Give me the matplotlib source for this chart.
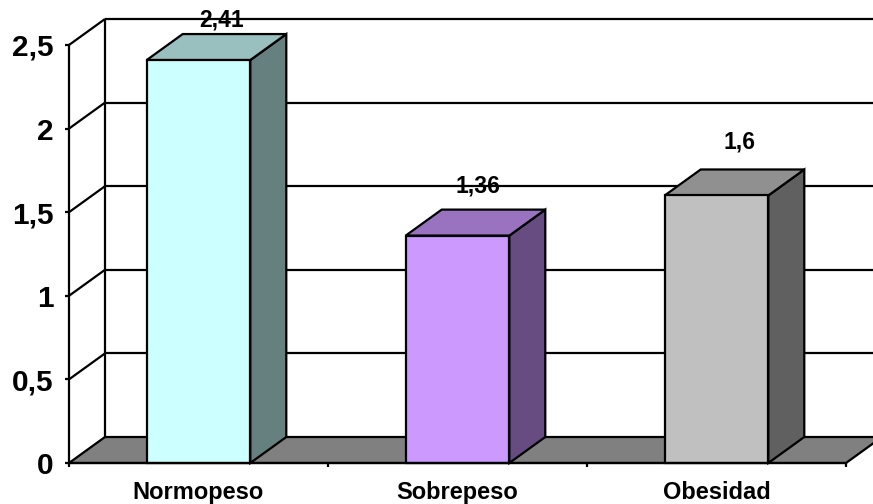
import matplotlib
matplotlib.use("Agg")
import matplotlib.pyplot as plt
from matplotlib.patches import Polygon

categorias = ["Normopeso", "Sobrepeso", "Obesidad"]
valores = [2.41, 1.36, 1.6]
etiquetas = ["2,41", "1,36", "1,6"]
ticks_y = [0, 0.5, 1, 1.5, 2, 2.5]
ticks_y_txt = ["0", "0,5", "1", "1,5", "2", "2,5"]

W, H = 873, 504
plt.rcParams["font.family"] = ["Liberation Sans", "DejaVu Sans"]

fig = plt.figure(figsize=(W / 100, H / 100), dpi=100)
# axes = front plane of the 3D box
L, R, T, B = 69, 846, 45, 463
ax = fig.add_axes([L / W, 1 - B / H, (R - L) / W, (B - T) / H])
ax.set_xlim(0, 3)
ax.set_ylim(0, 2.5)
ax.patch.set_visible(False)

# depth offset of the box, in data units
DX = 36 / ((R - L) / 3)
DY = 26 / ((B - T) / 2.5)
LW = 1.6
ANCHO = 0.40


def poly(puntos, color, z):
    ax.add_patch(Polygon(puntos, closed=True, facecolor=color, edgecolor="black",
                         linewidth=LW, joinstyle="miter", clip_on=False, zorder=z))


def linea(xs, ys, z=1):
    ax.plot(xs, ys, color="black", lw=LW, clip_on=False, zorder=z,
            solid_capstyle="butt")


# floor
ax.add_patch(Polygon([(0, 0), (3, 0), (3 + DX, DY), (DX, DY)], closed=True,
                     facecolor="#808080", edgecolor="none", clip_on=False, zorder=1))
linea([0, 3], [0, 0], 2)
linea([DX, 3 + DX], [DY, DY], 2)
linea([3, 3 + DX], [0, DY], 2)

# back wall and gridlines
for t in ticks_y:
    linea([0, DX], [t, t + DY])
    if t > 0:
        linea([DX, 3 + DX], [t + DY, t + DY])
linea([DX, DX], [DY, 2.5 + DY])

colores = [("#CCFFFF", "#99BFBF", "#668080"),
           ("#CC99FF", "#9973BF", "#664C80"),
           ("#C0C0C0", "#909090", "#606060")]
# pixel offsets of each value label from the centre of the bar top
lado_px = [23, 20, 23]
subida = [40, 50, 53]

for i, v in enumerate(valores):
    x0 = i + 0.5 - ANCHO / 2
    x1 = i + 0.5 + ANCHO / 2
    frente, tapa, lado = colores[i]
    poly([(x1, 0), (x1 + DX, DY), (x1 + DX, v + DY), (x1, v)], lado, 3)
    poly([(x0, v), (x1, v), (x1 + DX, v + DY), (x0 + DX, v + DY)], tapa, 3)
    poly([(x0, 0), (x1, 0), (x1, v), (x0, v)], frente, 4)
    ax.annotate(etiquetas[i], xy=(i + 0.5, v), xytext=(lado_px[i] * 0.72, subida[i] * 0.72),
                textcoords="offset points", ha="center", va="center",
                fontsize=16.5, fontweight="bold", color="black", zorder=6,
                annotation_clip=False)

# axes
for s in ["top", "right"]:
    ax.spines[s].set_visible(False)
for s in ["left", "bottom"]:
    ax.spines[s].set_linewidth(LW)
    ax.spines[s].set_zorder(5)

ax.set_yticks(ticks_y)
ax.set_yticklabels(ticks_y_txt, fontsize=21.5, fontweight="bold")
ax.tick_params(axis="y", length=3, width=LW, pad=8)

ax.set_xticks([0, 1, 2, 3])
ax.set_xticklabels([])
ax.set_xticks([0.5, 1.5, 2.5], labels=categorias, minor=True)
ax.tick_params(axis="x", which="major", length=3, width=LW)
ax.tick_params(axis="x", which="minor", length=0, pad=13, labelsize=17)
for lab in ax.get_xticklabels(minor=True):
    lab.set_fontweight("bold")

fig.savefig("out.png", dpi=100)
